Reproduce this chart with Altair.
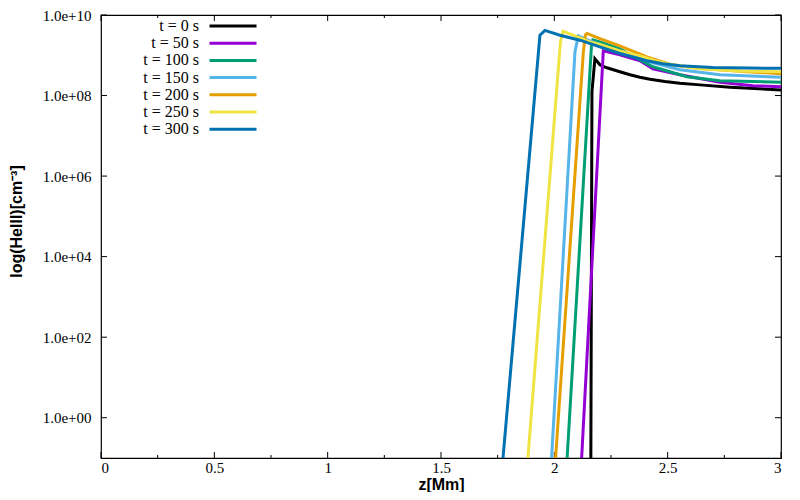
import altair as alt
import pandas as pd

# ---- data (z in Mm, log10 of HeIII density in cm^-3) ----
SERIES = ["t = 0 s", "t = 50 s", "t = 100 s", "t = 150 s", "t = 200 s", "t = 250 s", "t = 300 s"]
COLORS = ["#000000", "#9400D3", "#009E73", "#56B4E9", "#E69F00", "#F0E442", "#0072B2"]

Z_T0 = [2.1605, 2.166, 2.179, 2.201, 2.232, 2.289, 2.3335, 2.3775, 2.422, 2.488, 2.554, 2.643, 2.775, 3.0]
L_T0 = [-2.0, 8.096, 8.912, 8.764, 8.690, 8.591, 8.517, 8.455, 8.405, 8.349, 8.307, 8.265, 8.208, 8.138]

Z_T50 = [2.111, 2.216, 2.289, 2.378, 2.435, 2.554, 2.730, 2.876, 3.0]
L_T50 = [-2.0, 9.110, 9.011, 8.863, 8.665, 8.516, 8.331, 8.245, 8.220]

Z_T100 = [2.046, 2.164, 2.170, 2.201, 2.289, 2.435, 2.585, 2.730, 3.0]
L_T100 = [-2.0, 9.258, 9.382, 9.333, 9.159, 8.714, 8.467, 8.368, 8.331]

Z_T150 = [1.9775, 2.091, 2.1054, 2.157, 2.245, 2.333, 2.435, 2.554, 2.730, 3.0]
L_T150 = [-2.0, 9.085, 9.481, 9.357, 9.184, 9.011, 8.813, 8.640, 8.517, 8.455]

Z_T200 = [1.9934, 2.128, 2.137, 2.144, 2.201, 2.289, 2.408, 2.510, 2.629, 2.819, 3.0]
L_T200 = [-2.0, 9.085, 9.506, 9.543, 9.414, 9.233, 8.962, 8.776, 8.677, 8.603, 8.541]

Z_T250 = [1.8694, 2.027, 2.038, 2.083, 2.157, 2.201, 2.289, 2.378, 2.444, 2.510, 2.642, 2.819, 3.0]
L_T250 = [-2.0, 9.333, 9.597, 9.498, 9.333, 9.266, 9.110, 8.986, 8.868, 8.776, 8.665, 8.608, 8.591]

Z_T300 = [1.758, 1.9365, 1.9586, 2.0247, 2.113, 2.201, 2.289, 2.408, 2.479, 2.554, 2.699, 2.862, 3.0]
L_T300 = [-2.0, 9.498, 9.617, 9.498, 9.375, 9.209, 9.043, 8.863, 8.789, 8.739, 8.697, 8.682, 8.677]

X_MAJOR = [0, 0.5, 1, 1.5, 2, 2.5, 3]
X_MINOR = [0.25, 0.75, 1.25, 1.75, 2.25, 2.75]
Y_TICKS = [1, 1e2, 1e4, 1e6, 1e8, 1e10]

# ---- build table ----
rows = []
for name, zs, ls in zip(SERIES,
                        [Z_T0, Z_T50, Z_T100, Z_T150, Z_T200, Z_T250, Z_T300],
                        [L_T0, L_T50, L_T100, L_T150, L_T200, L_T250, L_T300]):
    for i, (z, l) in enumerate(zip(zs, ls)):
        rows.append({"series": name, "z": z, "n": 10 ** l, "i": i})
df = pd.DataFrame(rows)

W, H = 680, 443
xscale = alt.Scale(domain=[0, 3], nice=False, zero=False)
yscale = alt.Scale(type="log", domain=[0.1, 1e10], nice=False)

xaxis = alt.Axis(values=X_MAJOR, format=".1~f", ticks=False, domain=False, grid=False,
                 labelFont="Liberation Serif", labelFontSize=15, labelColor="black",
                 labelPadding=2, title="z[Mm]", titleFont="Liberation Sans",
                 titleFontSize=16, titleFontWeight="bold", titleColor="black", titlePadding=1)
yaxis = alt.Axis(values=Y_TICKS, ticks=False, domain=False, grid=False,
                 labelExpr="'1.0e+' + format(round(log(datum.value)/LN10), '02d')",
                 labelFont="Liberation Serif", labelFontSize=15, labelColor="black",
                 labelPadding=10, title="log(HeIII)[cm⁻³]", titleFont="Liberation Sans",
                 titleFontSize=16, titleFontWeight="bold", titleColor="black",
                 titleX=-85, titleY=206, titleAngle=-90, titleBaseline="middle")

lines = alt.Chart(df).mark_line(strokeWidth=3, clip=True).encode(
    x=alt.X("z:Q", scale=xscale, axis=xaxis),
    y=alt.Y("n:Q", scale=yscale, axis=yaxis),
    color=alt.Color("series:N", sort=SERIES,
                    scale=alt.Scale(domain=SERIES, range=COLORS),
                    legend=alt.Legend(title=None, orient="none", legendX=124, legendY=3,
                                      direction="vertical", symbolType="M-4.7,0H4.7",
                                      symbolSize=100, symbolStrokeWidth=3,
                                      labelAlign="right", labelOffset={"expr": "-42"},
                                      labelFont="Liberation Serif", labelFontSize=16,
                                      labelColor="black", rowPadding=1.2, padding=0)),
    order="i:Q",
)

xmaj = pd.DataFrame({"z": X_MAJOR})
xmin = pd.DataFrame({"z": X_MINOR})
yt = pd.DataFrame({"n": Y_TICKS})

def xticks(d, y0, y1):
    return alt.Chart(d).mark_rule(color="black", strokeWidth=1).encode(
        x=alt.X("z:Q", scale=xscale, axis=xaxis), y=alt.value(y0), y2=alt.value(y1))

def yticks(x0, x1):
    return alt.Chart(yt).mark_rule(color="black", strokeWidth=1).encode(
        y=alt.Y("n:Q", scale=yscale, axis=yaxis), x=alt.value(x0), x2=alt.value(x1))

chart = alt.layer(
    xticks(xmaj, H, H - 6), xticks(xmaj, 0, 6),
    xticks(xmin, H, H - 3), xticks(xmin, 0, 3),
    yticks(0, 6), yticks(W, W - 6),
    lines,
).properties(
    width=W, height=H,
    autosize=alt.AutoSizeParams(type="none"),
    padding={"left": 93, "top": 7, "right": 11, "bottom": 34},
).configure_view(stroke="black", strokeWidth=1.2)

chart.save("out.html", embed_options={"renderer": "svg", "actions": False})
